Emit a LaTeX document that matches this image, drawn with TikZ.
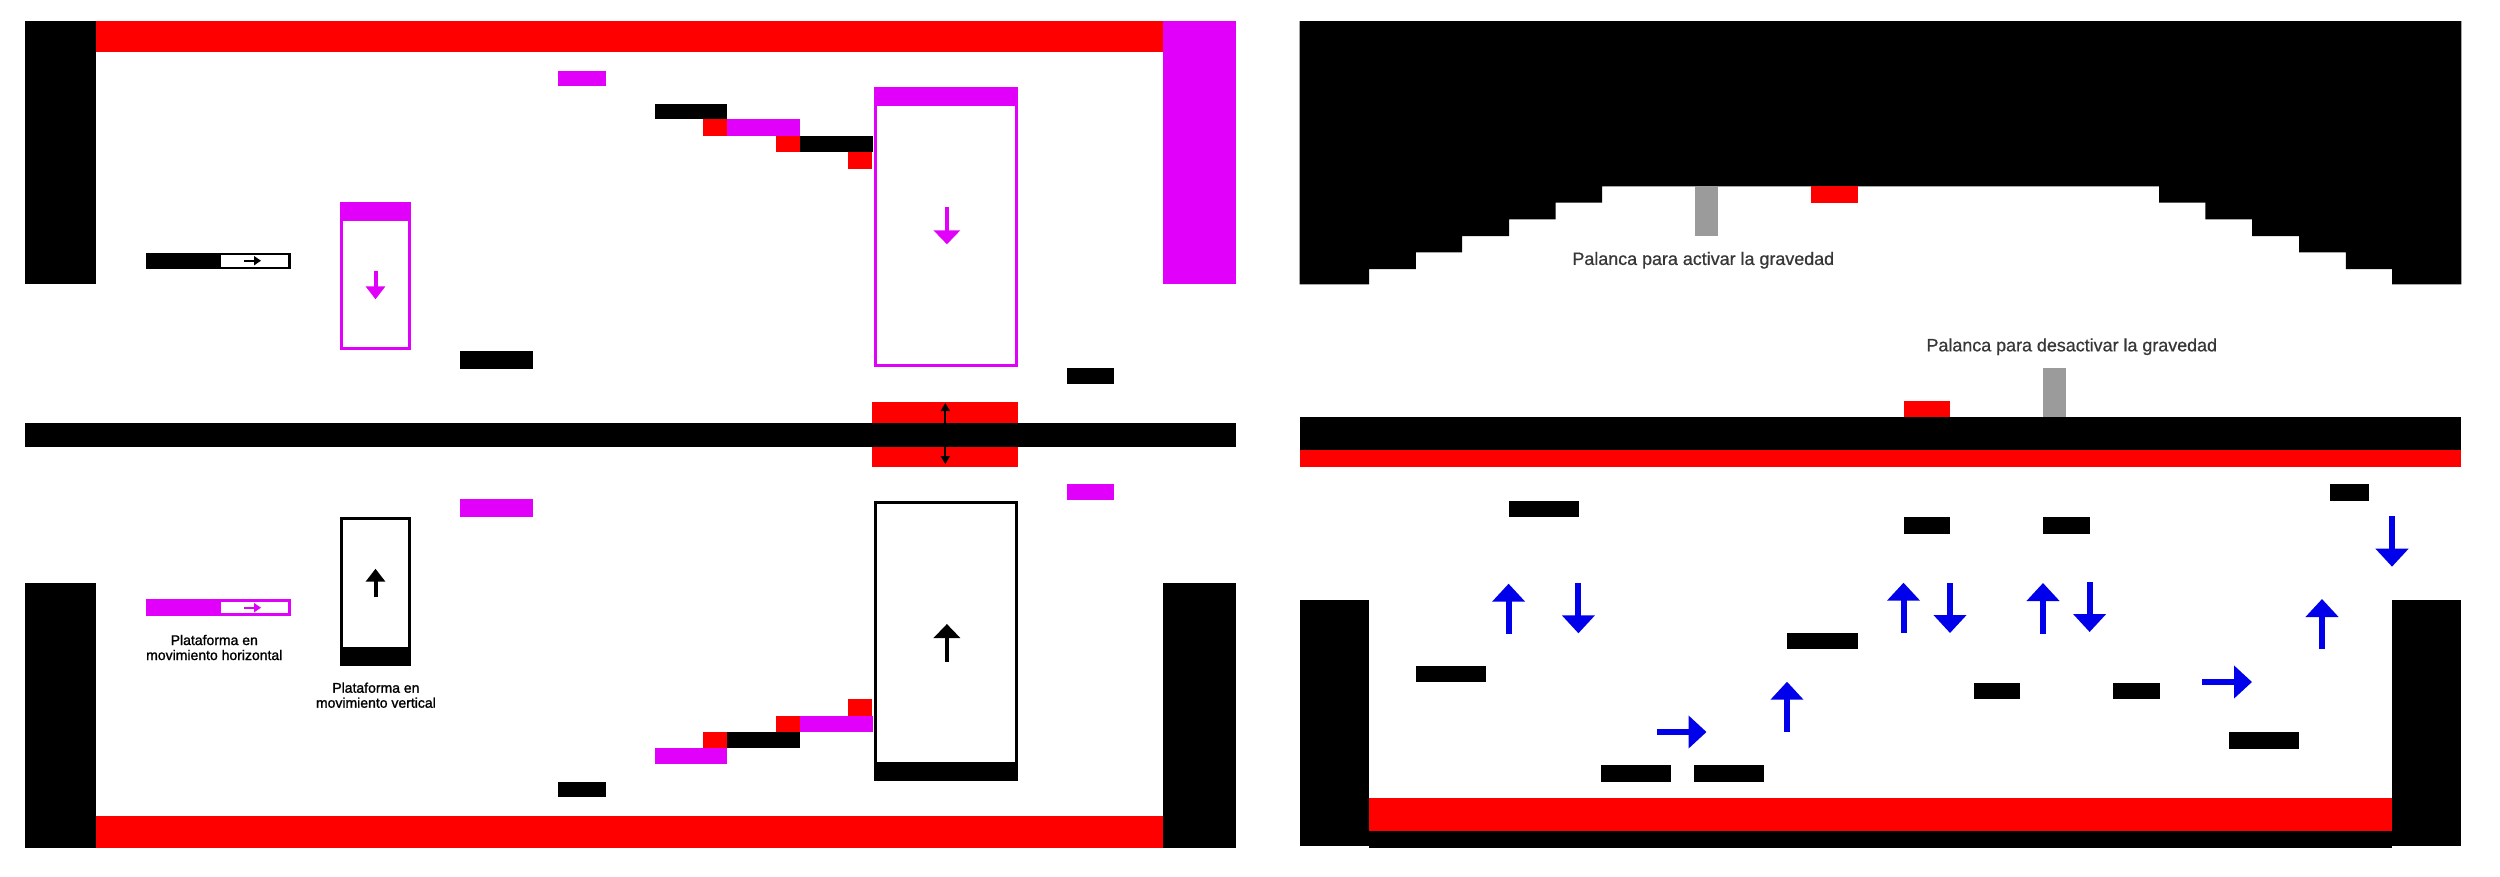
\documentclass[tikz,border=0pt]{standalone}
\usepackage{fontspec}
\setmainfont{Liberation Sans}
\newfontfamily\platfont{Liberation Sans}[FakeBold=1.3]
\newfontfamily\leverfont{Liberation Sans}[FakeBold=0.7]
\usepackage{xcolor}
\usepackage{tikz}
\usetikzlibrary{arrows.meta}

\definecolor{magplat}{RGB}{225,0,250}
\definecolor{lavared}{RGB}{255,0,0}
\definecolor{moveblue}{RGB}{0,0,235}
\definecolor{levergray}{RGB}{155,155,155}
\definecolor{notegray}{RGB}{55,55,55}

\begin{document}
\begin{tikzpicture}[x=1pt, y=-1pt,
    wall/.style={fill=black},
    lava/.style={fill=lavared},
    magblock/.style={fill=magplat},
    lever/.style={fill=levergray},
    magframe/.style={draw=magplat, line width=3pt},
    blkframe/.style={draw=black, line width=3pt},
    bluemove/.style={draw=moveblue, line width=6pt, -{Triangle[width=32pt, length=18pt]}},
    smallmove/.style={line width=4pt, -{Triangle[width=19pt, length=13pt]}},
    bigmove/.style={line width=4pt, -{Triangle[width=26pt, length=14pt]}},
    tinymove/.style={line width=1.8pt, -{Triangle[width=9pt, length=7pt]}},
    platnote/.style={align=center, inner sep=0pt, font=\platfont\fontsize{14}{15}\selectfont},
    levernote/.style={inner sep=0pt, text=notegray, font=\leverfont\fontsize{17.9}{20}\selectfont}]
    \useasboundingbox[fill=white] (0,0) rectangle (2500,876);

    % Left level - upper room
    \fill[wall] (24.5,21) rectangle (95.5,284.3);
    \fill[lava] (95.5,21) rectangle (1163.3,51.7);
    \fill[magblock] (1163.3,21) rectangle (1235.5,284.3);
    \fill[magblock] (557.6,70.7) rectangle (606.1,86);
    \fill[wall] (460.4,351) rectangle (533.1,369);
    \fill[wall] (1066.5,368) rectangle (1114.3,384);

    % Upper stairs
    \fill[wall] (654.7,104) rectangle (726.9,119.3);
    \fill[lava] (702.9,119.3) rectangle (726.9,135.7);
    \fill[magblock] (726.9,119.3) rectangle (799.6,135.7);
    \fill[lava] (775.5,135.7) rectangle (799.6,152.3);
    \fill[wall] (799.6,135.7) rectangle (873.1,152.3);
    \fill[lava] (848.2,152.3) rectangle (871.8,168.7);

    % Upper moving platforms
    \fill[wall] (145.7,252.7) rectangle (218.4,269.3);
    \draw[black, line width=2.4pt] (219.6,253.9) rectangle (289.4,268.1);
    \draw[tinymove, black] (244,260.7) -- (261,260.7);
    \fill[magblock] (340,202.3) rectangle (411.4,220.7);
    \draw[magframe] (341.5,203.8) rectangle (409.9,348.5);
    \draw[smallmove, magplat] (375.5,270.7) -- (375.5,299.3);
    \fill[magblock] (873.5,86.7) rectangle (1017.6,106);
    \draw[magframe] (875,88.2) rectangle (1016.1,365.2);
    \draw[bigmove, magplat] (946.9,206.7) -- (946.9,244.3);

    % Divider with gravity switch
    \fill[lava] (871.8,401.7) rectangle (1017.6,466.7);
    \fill[wall] (24.5,422.7) rectangle (1235.5,446.7);
    \draw[black, line width=2pt, {Triangle[width=9pt, length=8pt]}-{Triangle[width=9pt, length=8pt]}] (945.3,403) -- (945.3,464);

    % Left level - lower room
    \fill[wall] (24.5,583.3) rectangle (95.5,847.7);
    \fill[lava] (95.5,816) rectangle (1163.3,847.7);
    \fill[wall] (1163.3,583.3) rectangle (1235.5,847.7);
    \fill[magblock] (460.4,499.3) rectangle (533.1,517);
    \fill[magblock] (1066.5,484.3) rectangle (1114.3,500.3);
    \fill[wall] (557.6,781.7) rectangle (606.1,797.3);

    % Lower stairs
    \fill[lava] (848.2,699.3) rectangle (871.8,716);
    \fill[magblock] (799.6,716) rectangle (873.1,731.7);
    \fill[lava] (775.5,716) rectangle (799.6,732.3);
    \fill[wall] (726.9,732.3) rectangle (799.6,748.3);
    \fill[lava] (702.9,732.3) rectangle (726.9,748.3);
    \fill[magblock] (654.7,748.3) rectangle (726.9,764.3);

    % Lower moving platforms
    \fill[magblock] (145.7,599.3) rectangle (218.4,615.7);
    \draw[magplat, line width=2.4pt] (219.6,600.5) rectangle (289.4,614.5);
    \draw[tinymove, magplat] (244,607.7) -- (261,607.7);
    \fill[wall] (340,647) rectangle (411.4,665.7);
    \draw[blkframe] (341.5,518.8) rectangle (409.9,664.2);
    \draw[smallmove, black] (375.5,597.3) -- (375.5,568.7);
    \fill[wall] (873.5,762.3) rectangle (1017.6,781.3);
    \draw[blkframe] (875,502.5) rectangle (1016.1,779.8);
    \draw[bigmove, black] (946.9,661.7) -- (946.9,624);

    % Platform notes
    \node (hnote) [platnote] at (214.3,647.5) {Plataforma en\\movimiento horizontal};
    \node (vnote) [platnote] at (375.9,695.2) {Plataforma en\\movimiento vertical};

    % Right level - ceiling
    \fill[wall] (1299.6,21) -- (2461.3,21) -- (2461.3,284.3) -- (2392,284.3)
        -- (2392,269) -- (2345.8,269) -- (2345.8,252.3) -- (2299.1,252.3)
        -- (2299.1,236) -- (2252,236) -- (2252,219.3) -- (2205.4,219.3)
        -- (2205.4,202.7) -- (2159.2,202.7) -- (2159.2,186.3) -- (1602,186.3)
        -- (1602,202.7) -- (1555.5,202.7) -- (1555.5,219.3) -- (1509,219.3)
        -- (1509,236) -- (1462,236) -- (1462,252.3) -- (1415.9,252.3)
        -- (1415.9,269) -- (1369,269) -- (1369,284.3) -- (1299.6,284.3) -- cycle;
    \fill[lever] (1695.1,186.3) rectangle (1718,236);
    \fill[lava] (1810.6,186.3) rectangle (1857.6,202.7);
    \node (onnote) [levernote] at (1703.3,260.3) {Palanca para activar la gravedad};

    % Right level - middle bar
    \node (offnote) [levernote] at (2071.8,346.7) {Palanca para desactivar la gravedad};
    \fill[lever] (2043.3,368.3) rectangle (2066.2,417.3);
    \fill[lava] (1904.1,401) rectangle (1950.4,417.3);
    \fill[wall] (1299.6,417.3) rectangle (2461.3,450);
    \fill[lava] (1299.6,450) rectangle (2461.3,467.3);

    % Right level - lower room
    \fill[wall] (1299.6,600) rectangle (1369,846);
    \fill[wall] (2392,600) rectangle (2461.3,846);
    \fill[lava] (1369,798) rectangle (2392,831);
    \fill[wall] (1369,831) rectangle (2392,848);
    \foreach \xa/\ya/\xb/\yb in {1508.6/500.7/1578.8/517, 1904.1/517/1950.4/533.7,
        2043.3/517/2089.6/533.7, 2330.2/484.3/2368.7/500.7, 1416/666/1486/682.3,
        1787/632.7/1857.6/649, 1601/765.3/1671/781.7, 1694/765.3/1764/781.7,
        1973.7/682.7/2020/698.7, 2113/682.7/2159.6/698.7, 2228.8/732/2299/748.7}
        \fill[wall] (\xa,\ya) rectangle (\xb,\yb);

    % Gravity arrows
    \draw[bluemove] (1508.6,633.7) -- (1508.6,583.7);
    \draw[bluemove] (1578.4,583.3) -- (1578.4,633.3);
    \draw[bluemove] (1787,732) -- (1787,681.7);
    \draw[bluemove] (1903.5,632.7) -- (1903.5,582.7);
    \draw[bluemove] (1950,583) -- (1950,633);
    \draw[bluemove] (2043,633.7) -- (2043,583);
    \draw[bluemove] (2089.6,582) -- (2089.6,632);
    \draw[bluemove] (1657,732) -- (1706.5,732);
    \draw[bluemove] (2202,682) -- (2252,682);
    \draw[bluemove] (2322,649) -- (2322,599);
    \draw[bluemove] (2392,516) -- (2392,566.7);
\end{tikzpicture}
\end{document}
